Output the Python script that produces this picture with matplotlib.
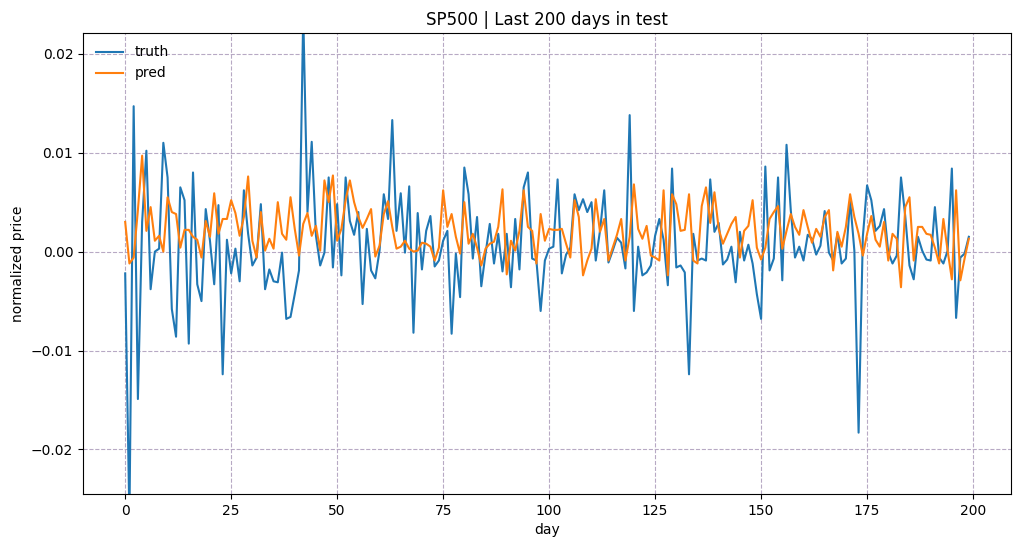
import matplotlib
matplotlib.use("Agg")
import matplotlib.pyplot as plt
import numpy as np

truth = [
    -0.0022, -0.0270, 0.0147, -0.0149, 0.0030, 0.0102, -0.0038, 0.0000, 0.0003, 0.0110,
    0.0075, -0.0058, -0.0086, 0.0065, 0.0052, -0.0093, 0.0080, -0.0033, -0.0050, 0.0043,
    0.0011, -0.0033, 0.0047, -0.0124, 0.0012, -0.0022, 0.0003, -0.0030, 0.0062, 0.0018,
    -0.0014, -0.0006, 0.0048, -0.0038, -0.0018, -0.0030, -0.0031, -0.0001, -0.0068, -0.0066,
    -0.0043, -0.0019, 0.0240, 0.0040, 0.0111, 0.0016, -0.0014, -0.0001, 0.0075, -0.0016,
    0.0048, -0.0024, 0.0075, 0.0031, 0.0017, 0.0040, -0.0053, 0.0023, -0.0019, -0.0027,
    0.0001, 0.0058, 0.0033, 0.0133, 0.0021, 0.0059, -0.0001, 0.0066, -0.0082, 0.0039,
    -0.0018, 0.0021, 0.0036, -0.0015, -0.0009, 0.0011, 0.0021, -0.0083, -0.0002, -0.0046,
    0.0085, 0.0058, -0.0007, 0.0035, -0.0035, -0.0002, 0.0028, -0.0012, 0.0018, -0.0020,
    0.0018, -0.0036, 0.0033, -0.0018, 0.0065, 0.0080, -0.0007, -0.0009, -0.0060, -0.0009,
    0.0003, 0.0005, 0.0073, -0.0022, -0.0003, 0.0004, 0.0058, 0.0042, 0.0053, 0.0040,
    0.0050, -0.0009, 0.0021, 0.0062, -0.0011, 0.0001, 0.0014, 0.0009, -0.0017, 0.0138,
    -0.0060, 0.0005, -0.0024, -0.0021, -0.0014, 0.0016, 0.0033, 0.0012, -0.0034, 0.0084,
    -0.0016, -0.0014, -0.0021, -0.0124, 0.0018, -0.0009, -0.0007, -0.0009, 0.0073, 0.0020,
    0.0029, -0.0013, -0.0008, 0.0005, -0.0031, 0.0020, -0.0009, 0.0007, -0.0012, -0.0043,
    -0.0068, 0.0086, -0.0019, -0.0007, 0.0075, -0.0029, 0.0108, 0.0042, -0.0006, 0.0005,
    -0.0009, 0.0017, 0.0013, -0.0003, 0.0006, 0.0041, -0.0001, -0.0009, 0.0018, -0.0012,
    -0.0007, 0.0052, 0.0001, -0.0183, 0.0015, 0.0067, 0.0052, 0.0021, 0.0026, 0.0043,
    -0.0001, -0.0012, -0.0004, 0.0075, 0.0036, -0.0014, -0.0028, 0.0015, 0.0001, -0.0008,
    -0.0009, 0.0045, -0.0006, -0.0012, 0.0001, 0.0084, -0.0067, -0.0006, -0.0002, 0.0015,
]

pred = [
    0.0030, -0.0012, -0.0006, 0.0042, 0.0097, 0.0021, 0.0045, 0.0011, 0.0016, 0.0000,
    0.0055, 0.0040, 0.0038, 0.0004, 0.0022, 0.0022, 0.0015, 0.0012, -0.0006, 0.0031,
    0.0015, 0.0059, 0.0018, 0.0033, 0.0033, 0.0052, 0.0039, 0.0016, 0.0035, 0.0076,
    0.0011, -0.0006, 0.0040, 0.0001, 0.0013, 0.0003, 0.0050, 0.0018, 0.0012, 0.0055,
    0.0023, -0.0004, 0.0028, 0.0039, 0.0016, 0.0026, 0.0001, 0.0072, 0.0050, 0.0077,
    0.0011, 0.0023, 0.0052, 0.0072, 0.0050, 0.0035, 0.0024, 0.0033, 0.0043, -0.0005,
    0.0006, 0.0038, 0.0051, 0.0025, 0.0003, 0.0005, 0.0011, 0.0003, 0.0000, 0.0001,
    0.0009, 0.0008, 0.0005, -0.0009, 0.0004, 0.0062, 0.0025, 0.0038, 0.0015, -0.0002,
    0.0050, 0.0008, 0.0018, 0.0004, -0.0014, 0.0003, 0.0008, 0.0010, 0.0025, 0.0063,
    -0.0023, 0.0011, 0.0001, 0.0021, 0.0062, 0.0025, 0.0021, -0.0012, 0.0038, 0.0011,
    0.0023, 0.0022, 0.0022, 0.0023, 0.0008, -0.0006, 0.0052, 0.0035, -0.0024, -0.0009,
    0.0003, 0.0053, 0.0020, 0.0033, -0.0009, 0.0004, 0.0017, 0.0033, -0.0009, 0.0015,
    0.0068, 0.0023, 0.0013, 0.0026, -0.0004, -0.0006, -0.0009, 0.0062, -0.0024, 0.0058,
    0.0048, 0.0021, 0.0022, 0.0058, -0.0009, -0.0012, 0.0046, 0.0065, 0.0029, 0.0060,
    0.0023, 0.0008, 0.0018, 0.0028, 0.0035, -0.0006, 0.0021, 0.0026, 0.0052, 0.0004,
    -0.0008, 0.0004, 0.0033, 0.0040, 0.0046, 0.0003, 0.0021, 0.0038, 0.0025, 0.0017,
    0.0042, 0.0025, 0.0009, 0.0023, 0.0015, 0.0035, 0.0042, -0.0019, 0.0020, 0.0005,
    0.0025, 0.0058, 0.0035, 0.0018, -0.0004, 0.0018, 0.0036, 0.0012, 0.0005, 0.0030,
    -0.0009, 0.0018, 0.0013, -0.0036, 0.0045, 0.0055, -0.0009, 0.0025, 0.0025, 0.0018,
    0.0017, 0.0004, -0.0012, 0.0033, 0.0001, -0.0028, 0.0062, -0.0029, -0.0007, 0.0013,
]

days = np.arange(len(truth))

fig = plt.figure(figsize=(10.28, 5.47), dpi=100)
ax = fig.add_axes([83/1028, 1 - 494/547, (1011-83)/1028, (494-33)/547])
ax.plot(days, truth, color='#1f77b4', lw=1.5, label='truth')
ax.plot(days, pred, color='#ff7f0e', lw=1.5, label='pred')
ax.set_ylim(-0.0245, 0.0221)
ax.set_xticks([0, 25, 50, 75, 100, 125, 150, 175, 200])
ax.set_yticks([-0.02, -0.01, 0.0, 0.01, 0.02])
ax.set_yticklabels(['\u22120.02', '\u22120.01', '0.00', '0.01', '0.02'])
ax.grid(True, linestyle='--', color='#b7a9c4', linewidth=0.8)
ax.set_title('SP500 | Last 200 days in test', fontsize=12)
ax.set_xlabel('day')
ax.set_ylabel('normalized price')
ax.legend(loc='upper left', frameon=False)
fig.savefig('out.png', dpi=100)
